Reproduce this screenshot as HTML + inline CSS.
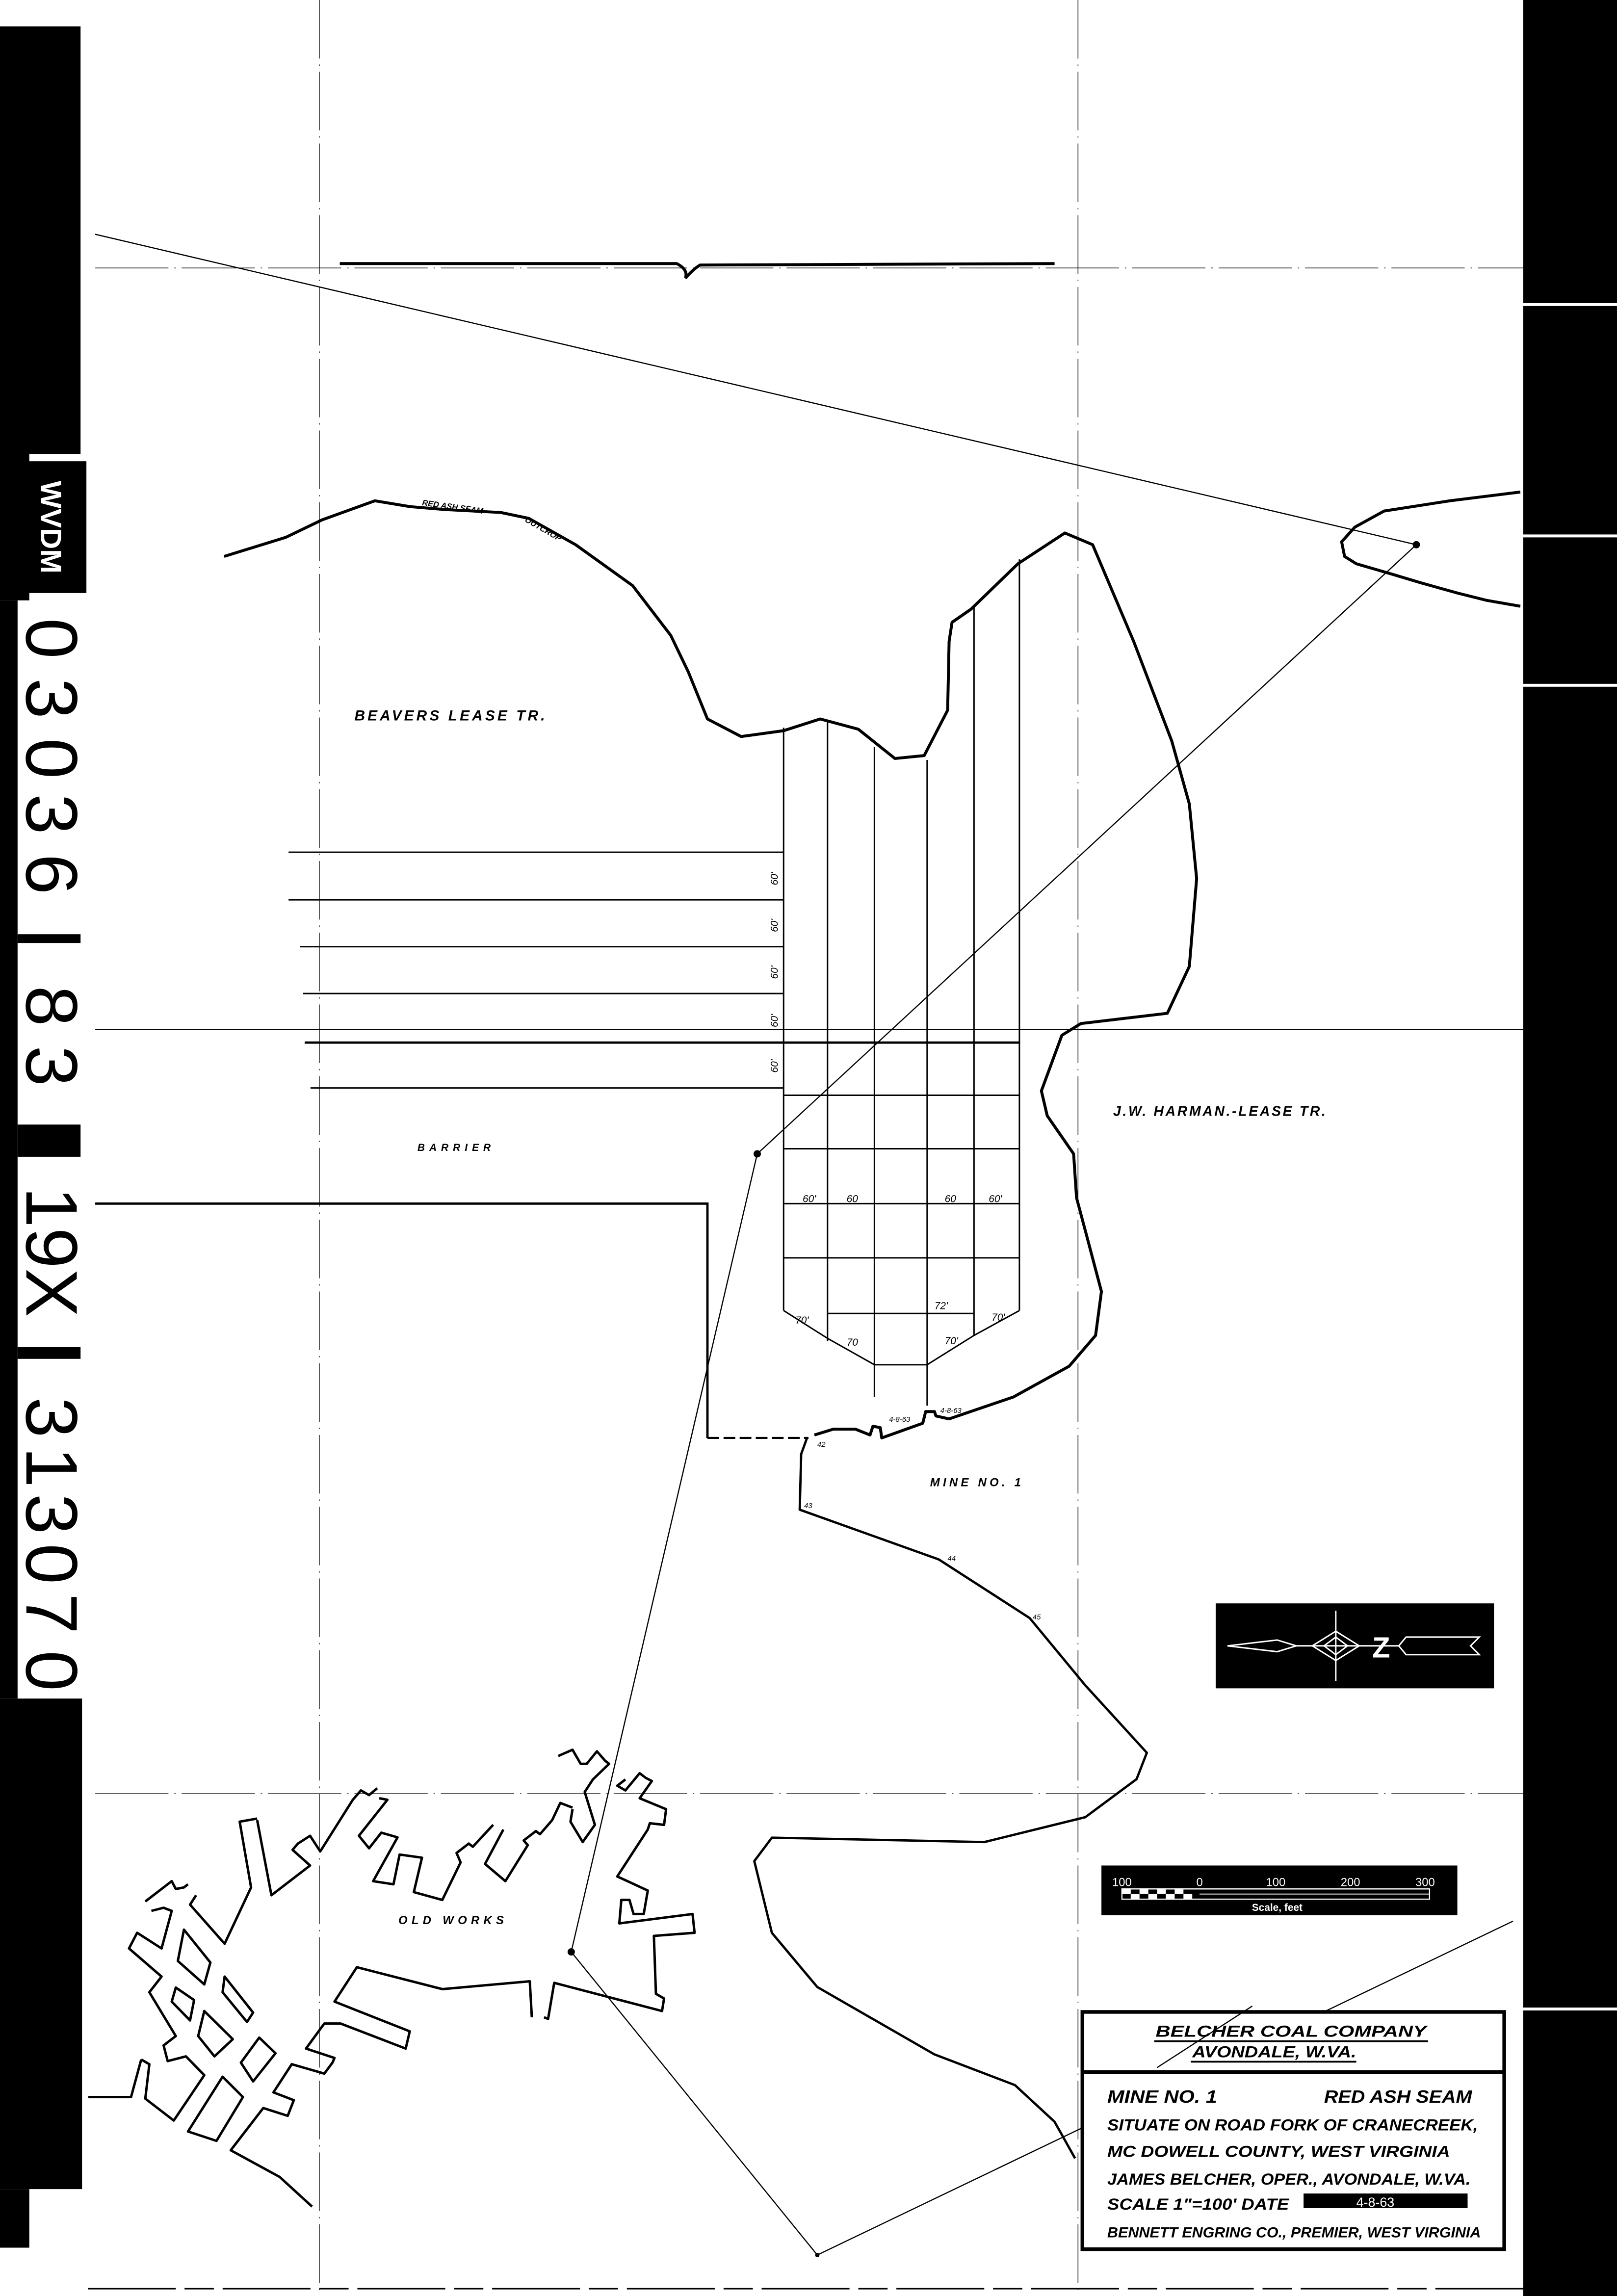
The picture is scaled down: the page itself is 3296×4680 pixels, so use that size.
<!DOCTYPE html>
<html><head><meta charset="utf-8"><style>
html,body{margin:0;padding:0;background:#fff;}
svg{display:block;}
text{font-family:"Liberation Sans",sans-serif;}
</style></head><body>
<svg width="3296" height="4680" viewBox="0 0 1104 1568" preserveAspectRatio="none" xmlns="http://www.w3.org/2000/svg">
<rect width="1104" height="1568" fill="#fff"/>
<!-- left strip -->
<rect x="0" y="18" width="55" height="292" fill="#000"/>
<rect x="0" y="290" width="20" height="120" fill="#000"/>
<rect x="18" y="315" width="41" height="90" fill="#000"/>
<text transform="translate(28,360) rotate(90)" font-size="20" font-weight="bold" fill="#fff" text-anchor="middle">WVDM</text>
<rect x="0" y="410" width="12" height="750" fill="#000"/>
<rect x="12" y="638" width="43" height="6" fill="#000"/>
<rect x="12" y="768" width="43" height="22" fill="#000"/>
<rect x="12" y="920" width="43" height="8" fill="#000"/>
<g font-size="50" fill="#000" text-anchor="middle">
<text transform="translate(18,436) rotate(90)">0</text>
<text transform="translate(18,477) rotate(90)">3</text>
<text transform="translate(18,518) rotate(90)">0</text>
<text transform="translate(18,556) rotate(90)">3</text>
<text transform="translate(18,597) rotate(90)">6</text>
<text transform="translate(18,687) rotate(90)">8</text>
<text transform="translate(18,728) rotate(90)">3</text>
<text transform="translate(18,855) rotate(90)">19X</text>
<text transform="translate(18,968) rotate(90)">3</text>
<text transform="translate(18,1002) rotate(90)">1</text>
<text transform="translate(18,1034) rotate(90)">3</text>
<text transform="translate(18,1068) rotate(90)">0</text>
<text transform="translate(18,1102) rotate(90)">7</text>
<text transform="translate(18,1141) rotate(90)">0</text>
</g>
<rect x="0" y="1160" width="56" height="335" fill="#000"/>
<rect x="0" y="1495" width="20" height="40" fill="#000"/>
<!-- right strip -->
<rect x="1040" y="0" width="64" height="1568" fill="#000"/>
<rect x="1040" y="207" width="64" height="2" fill="#fff"/>
<rect x="1040" y="365" width="64" height="2" fill="#fff"/>
<rect x="1040" y="467" width="64" height="2" fill="#fff"/>
<rect x="1040" y="1371" width="64" height="2" fill="#fff"/>
<!-- grid lines -->
<g stroke="#000" stroke-width="0.5" fill="none">
<line x1="218" y1="0" x2="218" y2="1568" stroke-dasharray="40 4 1 4"/>
<line x1="736" y1="0" x2="736" y2="1568" stroke-dasharray="40 4 1 4"/>
<line x1="65" y1="183" x2="1040" y2="183" stroke-dasharray="50 4 1 4"/>
<line x1="65" y1="703" x2="1040" y2="703"/>
<line x1="65" y1="1225" x2="1040" y2="1225" stroke-dasharray="50 4 1 4"/>
<line x1="65" y1="160" x2="967" y2="372" stroke-width="0.8"/>
<line x1="967" y1="372" x2="517" y2="788" stroke-width="0.8"/>
<line x1="517" y1="788" x2="390" y2="1333" stroke-width="0.8"/>
<line x1="390" y1="1333" x2="558" y2="1540" stroke-width="0.8"/>
<line x1="558" y1="1540" x2="1033" y2="1312" stroke-width="0.8"/>
</g>
<circle cx="967" cy="372" r="2.5"/><circle cx="517" cy="788" r="2.5"/><circle cx="390" cy="1333" r="2.5"/><circle cx="558" cy="1540" r="1.5"/>
<!-- top thick line -->
<path d="M232 180 L462 180 Q470 184 468 190 Q473 184 478 181 L720 180" stroke="#000" stroke-width="2" fill="none"/>
<!-- outcrop -->
<path d="M153 380 L195 367 L220 355 L256 342 L280 346 L304 348 L342 350 L361 354 L393 372 L432 400 L458 434 L470 459 L483 491 L506 503 L535 499 L560 491 L586 498 L611 518 L631 516 L647 485 L648 438 L650 425 L663 416 L695 385 L727 364 L746 372 L774 438 L800 506 L812 549 L817 600 L812 660 L797 692 L738 699 L725 707 L711 745 L715 762 L733 788 L735 818 L743 848 L752 882 L748 912 L730 933 L692 954 L648 969 L639 967 L638 964 L632 964 L630 972 L602 982 L601 975 L596 974 L594 980 L584 976 L569 976 L556 980" stroke="#000" stroke-width="2" fill="none" stroke-linejoin="round"/>
<path d="M1038 336 L990 342 L945 349 L925 360 L916 370 L918 380 L926 385 L950 392 L970 398 L995 405 L1015 410 L1038 414" stroke="#000" stroke-width="2" fill="none"/>
<!-- lower mine boundary -->
<path d="M551 982 L547 993 L546 1031 L641 1065 L703 1105 L741 1151 L783 1197 L776 1215 L741 1241 L672 1258 L527 1255 L515 1271 L527 1320 L558 1357 L638 1403 L693 1424 L720 1449 L734 1474" stroke="#000" stroke-width="1.6" fill="none" stroke-linejoin="round"/>
<!-- barrier -->
<path d="M65 822 L483 822 L483 982" stroke="#000" stroke-width="1.6" fill="none"/>
<line x1="483" y1="982" x2="552" y2="982" stroke="#000" stroke-width="1.4" stroke-dasharray="8 3"/>
<!-- left rows -->
<g stroke="#000" stroke-width="1" fill="none">
<line x1="197" y1="582" x2="535" y2="582"/>
<line x1="197" y1="614.5" x2="535" y2="614.5"/>
<line x1="205" y1="646.5" x2="535" y2="646.5"/>
<line x1="207" y1="678.5" x2="535" y2="678.5"/>
<line x1="208" y1="712" x2="696" y2="712" stroke-width="1.6"/>
<line x1="212" y1="743" x2="535" y2="743"/>
<line x1="535" y1="748" x2="696" y2="748"/>
<line x1="535" y1="784.5" x2="696" y2="784.5"/>
<line x1="535" y1="822" x2="696" y2="822"/>
<line x1="535" y1="859" x2="696" y2="859"/>
<line x1="565" y1="897" x2="665" y2="897"/>
<line x1="535" y1="497" x2="535" y2="895"/>
<line x1="565" y1="493" x2="565" y2="916"/>
<line x1="597" y1="510" x2="597" y2="954"/>
<line x1="633" y1="519" x2="633" y2="960"/>
<line x1="665" y1="414" x2="665" y2="912"/>
<line x1="696" y1="382" x2="696" y2="895"/>
<polyline points="535,895 565,914 597,932 633,932 665,912 696,895"/>
</g>
<g font-size="7" font-style="italic" fill="#000">
<text transform="translate(531,600) rotate(-90)" text-anchor="middle">60'</text>
<text transform="translate(531,632) rotate(-90)" text-anchor="middle">60'</text>
<text transform="translate(531,664) rotate(-90)" text-anchor="middle">60'</text>
<text transform="translate(531,697) rotate(-90)" text-anchor="middle">60'</text>
<text transform="translate(531,728) rotate(-90)" text-anchor="middle">60'</text>
<text x="548" y="821">60'</text><text x="578" y="821">60</text><text x="645" y="821">60</text><text x="675" y="821">60'</text>
<text x="543" y="904">70'</text><text x="578" y="919">70</text><text x="638" y="894">72'</text><text x="645" y="918">70'</text><text x="677" y="902">70'</text>
<text x="607" y="971" font-size="5">4-8-63</text><text x="642" y="965" font-size="5">4-8-63</text>
<text x="558" y="988" font-size="5">42</text><text x="549" y="1030" font-size="5">43</text>
<text x="647" y="1066" font-size="5">44</text><text x="705" y="1106" font-size="5">45</text>
</g>
<!-- labels -->
<g font-style="italic" font-weight="bold" fill="#000">
<text x="242" y="492" font-size="10" textLength="130">BEAVERS LEASE TR.</text>
<text x="760" y="762" font-size="9.5" textLength="145">J.W. HARMAN.-LEASE TR.</text>
<text x="285" y="786" font-size="7" textLength="50">BARRIER</text>
<text x="635" y="1015" font-size="8" textLength="62">MINE NO. 1</text>
<text x="272" y="1314" font-size="8" textLength="72">OLD WORKS</text>
<text transform="translate(288,345) rotate(8)" font-size="5.5">RED ASH SEAM</text>
<text transform="translate(358,356) rotate(30)" font-size="5.5">OUTCROP</text>
</g>
<!-- old works -->
<g transform="translate(60.3,1172.5) scale(0.2778,0.2137)" stroke="#000" fill="none" stroke-linejoin="round">
<polyline vector-effect="non-scaling-stroke" stroke-width="5" points="0,1215 105,1215 130,1095"/>
<polyline vector-effect="non-scaling-stroke" stroke-width="5" points="140,590 150,580 205,525 215,550 235,545 245,535"/>
<polyline vector-effect="non-scaling-stroke" stroke-width="5" points="265,570 250,600 335,725 400,545 372,335 415,325"/>
<polyline vector-effect="non-scaling-stroke" stroke-width="5" points="415,330 450,570 545,475 502,425 515,405 545,380 570,430 650,265 670,235 690,250 710,228"/>
<polyline vector-effect="non-scaling-stroke" stroke-width="5" points="715,260 735,265 665,380 690,420 720,370 760,385 700,525 750,535 765,440 820,450 800,560 870,585 915,465 905,435 935,405 945,415 995,345"/>
<polyline vector-effect="non-scaling-stroke" stroke-width="5" points="1020,360 975,470 1025,525 1080,410 1070,395 1100,365 1110,375 1140,330 1160,275 1190,290"/>
<polyline vector-effect="non-scaling-stroke" stroke-width="5" points="1190,295 1185,335 1215,400 1245,345 1220,240 1240,200 1280,150 1270,140 1250,110 1225,150 1210,150 1190,105 1155,125"/>
<polyline vector-effect="non-scaling-stroke" stroke-width="5" points="1320,200 1300,220 1320,235 1355,180 1370,195 1385,205 1355,260 1420,295 1415,345 1380,340 1375,360 1300,510 1375,555 1365,630 1340,630 1330,585 1310,585 1305,660 1485,630 1490,690 1390,700 1395,885 1415,900 1410,940 1145,850 1130,965 1120,960"/>
<polyline vector-effect="non-scaling-stroke" stroke-width="5" points="1090,960 1085,845 870,870 660,800 605,910 790,1005 780,1060 620,980 580,980 535,1060 605,1090 600,1105 580,1140 500,1110 455,1200 505,1225 490,1275 430,1250 350,1385 470,1470 550,1565"/>
<polyline vector-effect="non-scaling-stroke" stroke-width="5" points="155,620 185,610 205,620 180,740 120,690 100,740 180,830 150,880 215,1020 185,1050 195,1100 240,1085 285,1145 210,1290 140,1220 150,1110 130,1095"/>
<polygon vector-effect="non-scaling-stroke" stroke-width="5" points="220,780 235,680 300,785 285,855"/>
<polygon vector-effect="non-scaling-stroke" stroke-width="5" points="205,910 215,865 260,905 250,970"/>
<polygon vector-effect="non-scaling-stroke" stroke-width="5" points="270,1020 285,940 355,1030 310,1085"/>
<polygon vector-effect="non-scaling-stroke" stroke-width="5" points="330,880 335,830 405,945 390,975"/>
<polygon vector-effect="non-scaling-stroke" stroke-width="5" points="375,1105 420,1025 460,1075 405,1165"/>
<polygon vector-effect="non-scaling-stroke" stroke-width="5" points="245,1325 330,1150 380,1215 315,1355"/>
</g>
<!-- north arrow -->
<rect x="830" y="1095" width="190" height="58" fill="#000"/>
<g stroke="#fff" stroke-width="1" fill="none">
<line x1="912" y1="1100" x2="912" y2="1148"/>
<line x1="884" y1="1124" x2="955" y2="1124"/>
<polygon points="838,1124 872,1120 885,1124 872,1128"/>
<polygon points="912,1114 928,1124 912,1134 896,1124"/>
<polygon points="912,1118 920,1124 912,1130 904,1124"/>
<polygon points="960,1118 1010,1118 1004,1124 1010,1130 960,1130 955,1124"/>
</g>
<text x="943" y="1132" font-size="20" font-weight="bold" fill="#fff" text-anchor="middle">Z</text>
<!-- scale bar -->
<rect x="752" y="1274" width="243" height="34" fill="#000"/>
<g font-size="8" fill="#fff" text-anchor="middle">
<text x="766" y="1288">100</text><text x="819" y="1288">0</text><text x="871" y="1288">100</text><text x="922" y="1288">200</text><text x="973" y="1288">300</text>
<text x="872" y="1305" font-size="7" font-weight="bold">Scale, feet</text>
</g>
<rect x="766" y="1290" width="210" height="7" fill="none" stroke="#fff" stroke-width="0.8"/>
<line x1="819" y1="1293.5" x2="976" y2="1293.5" stroke="#fff" stroke-width="0.6"/>
<g fill="#fff"><rect x="766" y="1290" width="6" height="3.5"/><rect x="778" y="1290" width="6" height="3.5"/><rect x="790" y="1290" width="6" height="3.5"/><rect x="802" y="1290" width="6" height="3.5"/><rect x="772" y="1293.5" width="6" height="3.5"/><rect x="784" y="1293.5" width="6" height="3.5"/><rect x="796" y="1293.5" width="6" height="3.5"/><rect x="808" y="1293.5" width="6" height="3.5"/></g>
<!-- title block -->
<rect x="739" y="1374" width="288" height="162" fill="#fff" stroke="#000" stroke-width="2.5"/>
<line x1="739" y1="1415" x2="1027" y2="1415" stroke="#000" stroke-width="2.5"/>
<line x1="790" y1="1412" x2="855" y2="1370" stroke="#000" stroke-width="0.8"/>
<g font-style="italic" font-weight="bold" fill="#000">
<text x="789" y="1391" font-size="11" textLength="185" lengthAdjust="spacingAndGlyphs">BELCHER COAL COMPANY</text>
<line x1="788" y1="1394" x2="975" y2="1394" stroke="#000" stroke-width="1.2"/>
<text x="814" y="1405" font-size="11" textLength="112" lengthAdjust="spacingAndGlyphs">AVONDALE, W.VA.</text>
<line x1="813" y1="1408" x2="926" y2="1408" stroke="#000" stroke-width="1.2"/>
<text x="756" y="1436" font-size="12" textLength="75" lengthAdjust="spacingAndGlyphs">MINE NO. 1</text>
<text x="904" y="1436" font-size="12" textLength="101" lengthAdjust="spacingAndGlyphs">RED ASH SEAM</text>
<text x="756" y="1455" font-size="11" textLength="253" lengthAdjust="spacingAndGlyphs">SITUATE ON ROAD FORK OF CRANECREEK,</text>
<text x="756" y="1473" font-size="11" textLength="234" lengthAdjust="spacingAndGlyphs">MC DOWELL COUNTY,  WEST VIRGINIA</text>
<text x="756" y="1492" font-size="11" textLength="248" lengthAdjust="spacingAndGlyphs">JAMES BELCHER, OPER., AVONDALE, W.VA.</text>
<text x="756" y="1509" font-size="11" textLength="124" lengthAdjust="spacingAndGlyphs">SCALE 1"=100' DATE</text>
<text x="756" y="1528" font-size="10" textLength="255" lengthAdjust="spacingAndGlyphs">BENNETT ENGRING CO., PREMIER, WEST VIRGINIA</text>
</g>
<rect x="890" y="1498" width="112" height="10" fill="#000"/>
<text x="926" y="1507" font-size="9" fill="#fff">4-8-63</text>
<!-- bottom edge -->
<line x1="60" y1="1563" x2="1040" y2="1563" stroke="#000" stroke-width="1" stroke-dasharray="60 6 20 6"/>
</svg>
</body></html>
